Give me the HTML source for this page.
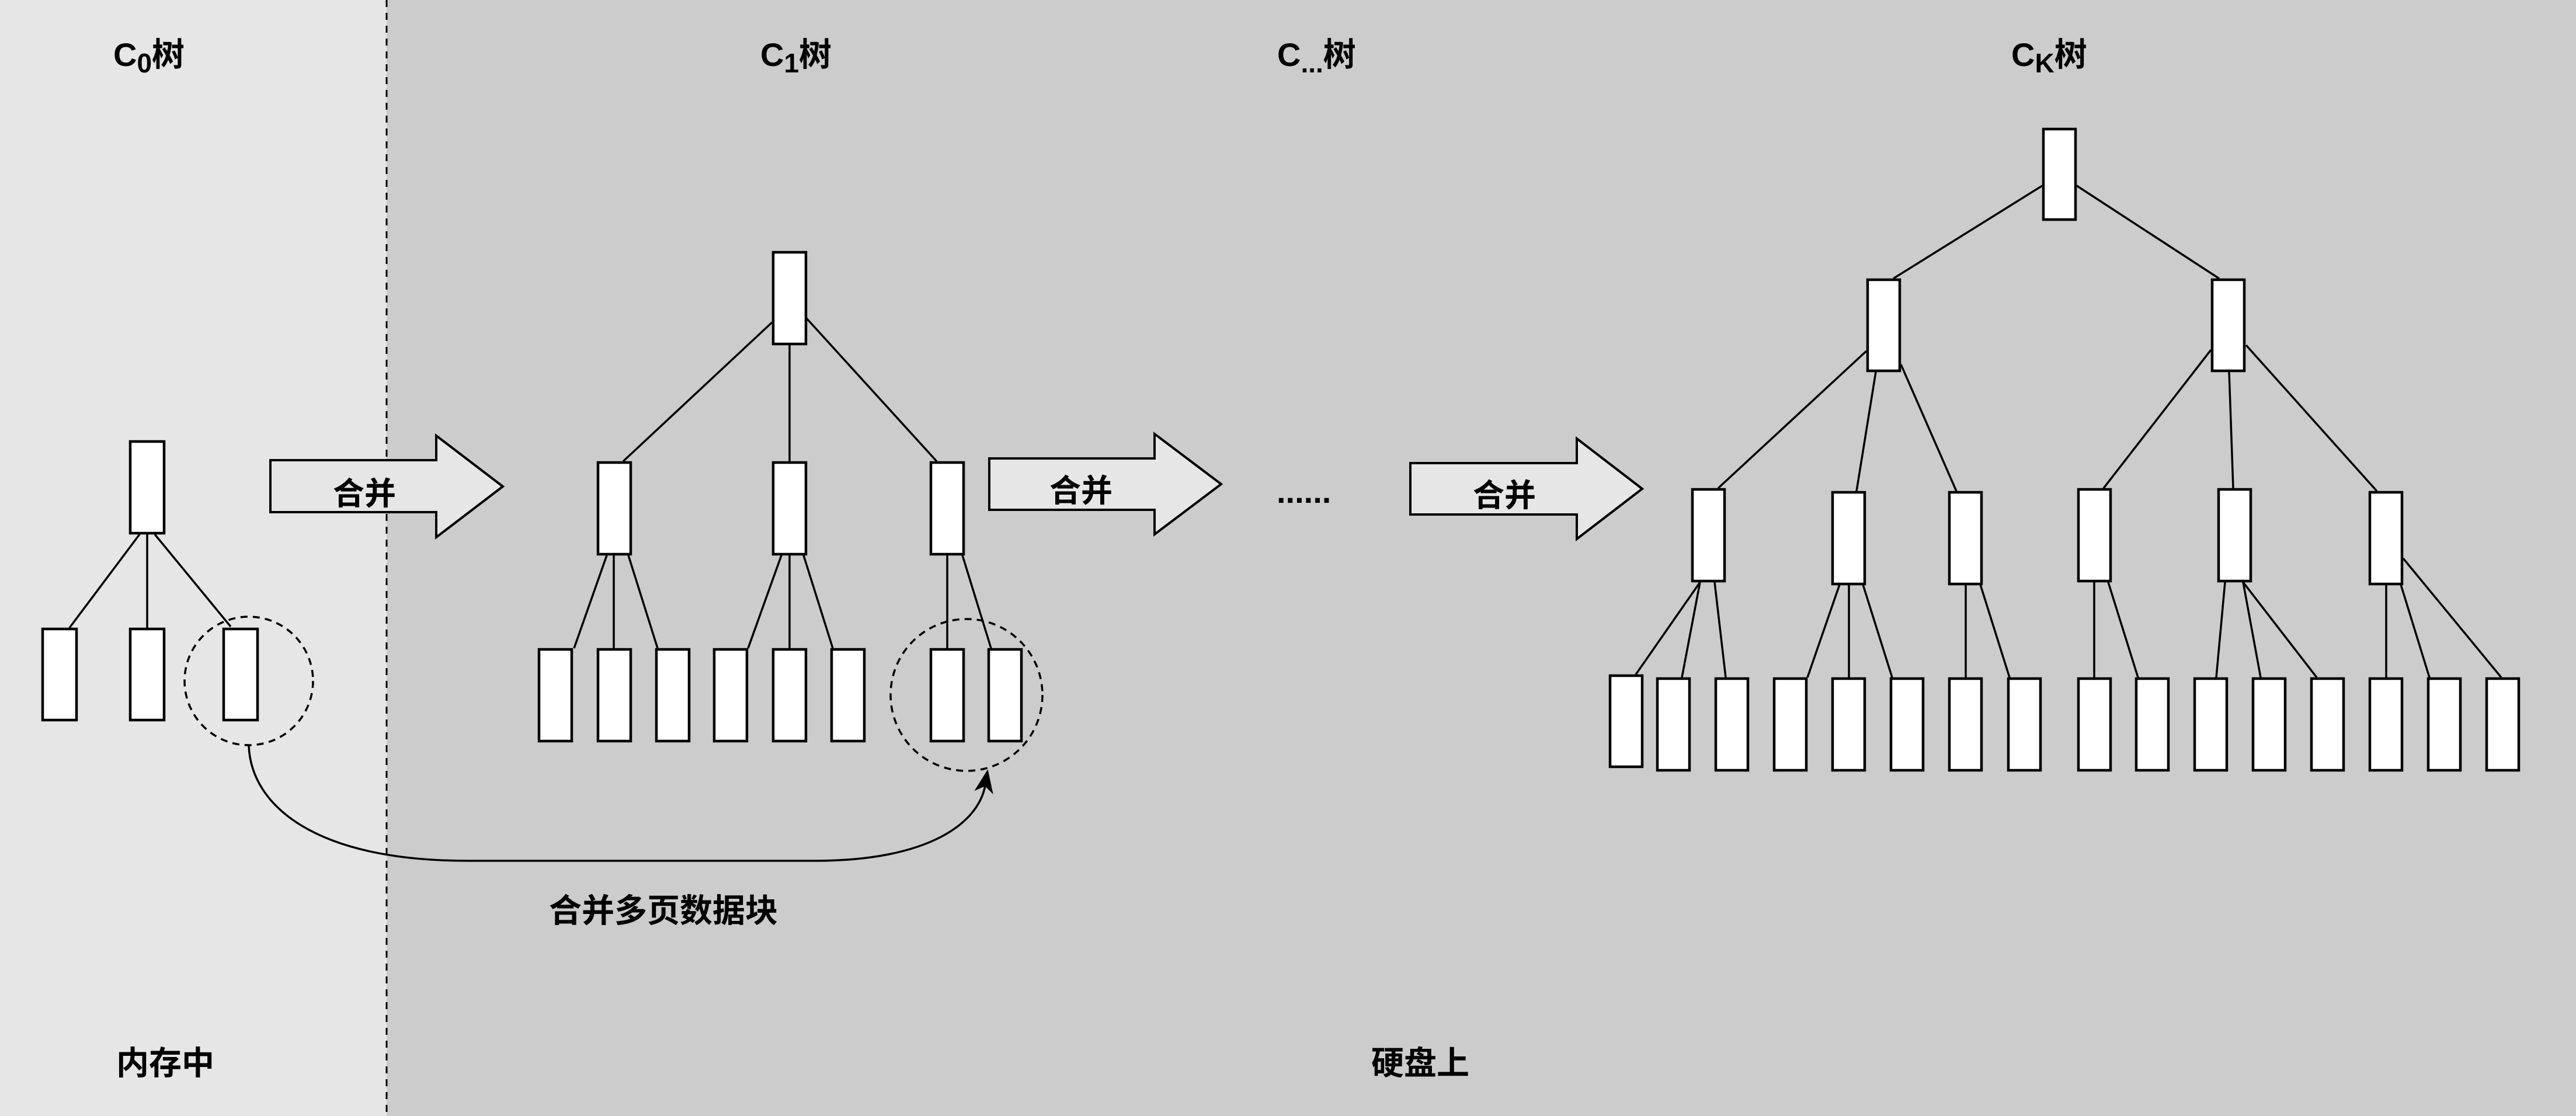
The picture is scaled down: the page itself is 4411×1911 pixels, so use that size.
<!DOCTYPE html>
<html><head><meta charset="utf-8"><style>
html,body{margin:0;padding:0;width:4411px;height:1911px;overflow:hidden;background:#ccc}
svg{display:block}
text{font-family:"Liberation Sans","Noto Sans CJK SC",sans-serif;font-weight:bold;fill:#000}
</style></head><body>
<svg width="4411" height="1911" viewBox="0 0 4411 1911" xmlns="http://www.w3.org/2000/svg">
<rect x="0" y="0" width="4411" height="1911" fill="#cccccc"/>
<rect x="0" y="0" width="662" height="1911" fill="#e6e6e6"/>
<line x1="662" y1="0" x2="662" y2="1911" stroke="#000" stroke-width="3" stroke-dasharray="12 10"/>

<!-- titles -->
<text x="194" y="113" font-size="56">C<tspan font-size="46" dy="11">0</tspan><tspan dy="-11">树</tspan></text>
<text x="1302" y="113" font-size="56">C<tspan font-size="46" dy="11">1</tspan><tspan dy="-11">树</tspan></text>
<text x="2187" y="113" font-size="56">C<tspan font-size="46" dy="11">...</tspan><tspan dy="-11">树</tspan></text>
<text x="3444" y="113" font-size="56">C<tspan font-size="46" dy="11">K</tspan><tspan dy="-11">树</tspan></text>

<!-- bottom labels -->
<text x="199" y="1840" font-size="56">内存中</text>
<text x="2348" y="1840" font-size="56">硬盘上</text>
<text x="1136" y="1579" font-size="56" text-anchor="middle">合并多页数据块</text>

<!-- arrows -->
<g fill="#e6e6e6" stroke="#000" stroke-width="4" stroke-linejoin="miter">
<polygon points="463,788 747,788 747,746 861,833 747,920 747,877 463,877"/>
<polygon points="1694,785 1977,785 1977,743 2091,829 1977,915 1977,873 1694,873"/>
<polygon points="2415,793 2700,793 2700,751 2812,837 2700,923 2700,881 2415,881"/>
</g>
<text x="624" y="864" font-size="54" text-anchor="middle">合并</text>
<text x="1851" y="859" font-size="54" text-anchor="middle">合并</text>
<text x="2576" y="867" font-size="54" text-anchor="middle">合并</text>
<text x="2186" y="861" font-size="56">......</text>

<!-- tree lines -->
<g stroke="#000" stroke-width="3.5" fill="none">
<!-- C0 -->
<line x1="239" y1="915" x2="119" y2="1075"/>
<line x1="252" y1="915" x2="252" y2="1075"/>
<line x1="265" y1="915" x2="395" y2="1073"/>
<!-- C1 -->
<line x1="1322" y1="552" x2="1067" y2="790"/>
<line x1="1352" y1="591" x2="1352" y2="790"/>
<line x1="1381" y1="545" x2="1604" y2="790"/>
<line x1="1039" y1="951" x2="983" y2="1110"/>
<line x1="1051" y1="951" x2="1051" y2="1110"/>
<line x1="1076" y1="951" x2="1126" y2="1110"/>
<line x1="1338" y1="951" x2="1281" y2="1110"/>
<line x1="1352" y1="951" x2="1352" y2="1110"/>
<line x1="1376" y1="951" x2="1426" y2="1110"/>
<line x1="1622" y1="951" x2="1622" y2="1110"/>
<line x1="1648" y1="951" x2="1697" y2="1110"/>
<!-- CK -->
<line x1="3497" y1="318" x2="3242" y2="477"/>
<line x1="3556" y1="318" x2="3800" y2="477"/>
<line x1="3196" y1="601" x2="2942" y2="836"/>
<line x1="3212" y1="637" x2="3179" y2="841"/>
<line x1="3255" y1="624" x2="3350" y2="841"/>
<line x1="3786" y1="599" x2="3602" y2="836"/>
<line x1="3817" y1="637" x2="3824" y2="836"/>
<line x1="3846" y1="591" x2="4070" y2="841"/>
<line x1="2911" y1="997" x2="2801" y2="1155"/>
<line x1="2911" y1="997" x2="2880" y2="1160"/>
<line x1="2936" y1="997" x2="2955" y2="1160"/>
<line x1="3150" y1="1001" x2="3095" y2="1160"/>
<line x1="3166" y1="1001" x2="3166" y2="1160"/>
<line x1="3190" y1="1001" x2="3240" y2="1160"/>
<line x1="3366" y1="1001" x2="3366" y2="1160"/>
<line x1="3391" y1="1001" x2="3441" y2="1160"/>
<line x1="3586" y1="997" x2="3586" y2="1160"/>
<line x1="3610" y1="997" x2="3661" y2="1160"/>
<line x1="3810" y1="997" x2="3795" y2="1160"/>
<line x1="3841" y1="997" x2="3871" y2="1160"/>
<line x1="3841" y1="997" x2="3967" y2="1160"/>
<line x1="4086" y1="1001" x2="4086" y2="1160"/>
<line x1="4111" y1="1001" x2="4160" y2="1160"/>
<line x1="4115" y1="956" x2="4283" y2="1160"/>
</g>

<!-- rects -->
<g fill="#fff" stroke="#000" stroke-width="4.5">
<!-- C0 -->
<rect x="223" y="756" width="58" height="157"/>
<rect x="73" y="1077" width="58" height="156"/>
<rect x="223" y="1077" width="58" height="156"/>
<rect x="383" y="1077" width="58" height="156"/>
<!-- C1 -->
<rect x="1324" y="432" width="56" height="157"/>
<rect x="1024" y="792" width="56" height="157"/>
<rect x="1324" y="792" width="56" height="157"/>
<rect x="1594" y="792" width="56" height="157"/>
<rect x="923" y="1112" width="56" height="157"/>
<rect x="1024" y="1112" width="56" height="157"/>
<rect x="1124" y="1112" width="56" height="157"/>
<rect x="1223" y="1112" width="56" height="157"/>
<rect x="1324" y="1112" width="56" height="157"/>
<rect x="1424" y="1112" width="56" height="157"/>
<rect x="1594" y="1112" width="56" height="157"/>
<rect x="1693" y="1112" width="56" height="157"/>
<!-- CK -->
<rect x="3499" y="221" width="55" height="155"/>
<rect x="3198" y="479" width="55" height="156"/>
<rect x="3788" y="479" width="55" height="156"/>
<rect x="2898" y="838" width="55" height="157"/>
<rect x="3138" y="843" width="55" height="157"/>
<rect x="3338" y="843" width="55" height="157"/>
<rect x="3559" y="838" width="55" height="157"/>
<rect x="3799" y="838" width="55" height="157"/>
<rect x="4058" y="843" width="55" height="157"/>
<rect x="2757" y="1157" width="55" height="156"/>
<rect x="2838" y="1162" width="55" height="157"/>
<rect x="2938" y="1162" width="55" height="157"/>
<rect x="3038" y="1162" width="55" height="157"/>
<rect x="3138" y="1162" width="55" height="157"/>
<rect x="3238" y="1162" width="55" height="157"/>
<rect x="3338" y="1162" width="55" height="157"/>
<rect x="3439" y="1162" width="55" height="157"/>
<rect x="3559" y="1162" width="55" height="157"/>
<rect x="3658" y="1162" width="55" height="157"/>
<rect x="3758" y="1162" width="55" height="157"/>
<rect x="3858" y="1162" width="55" height="157"/>
<rect x="3958" y="1162" width="55" height="157"/>
<rect x="4058" y="1162" width="55" height="157"/>
<rect x="4158" y="1162" width="55" height="157"/>
<rect x="4258" y="1162" width="55" height="157"/>
</g>

<!-- dashed circles -->
<g fill="none" stroke="#000" stroke-width="3.5" stroke-dasharray="12 9">
<ellipse cx="426" cy="1166" rx="110" ry="110"/>
<ellipse cx="1655" cy="1190" rx="130" ry="130"/>
</g>

<!-- curved connector -->
<path d="M426,1277 C430,1380 540,1474 800,1474 L1395,1474 C1590,1474 1675,1410 1687,1345" fill="none" stroke="#000" stroke-width="3.5"/>
<polygon points="1691,1320 1699,1357 1687,1345 1671,1352" fill="#000" stroke="#000" stroke-width="2"/>
</svg>
</body></html>
